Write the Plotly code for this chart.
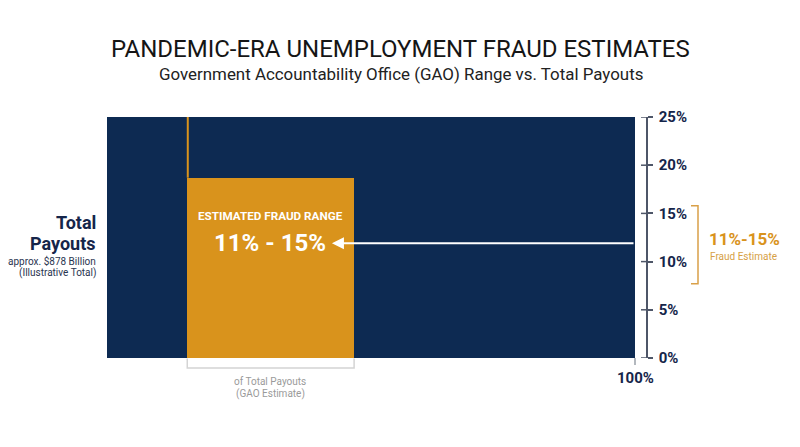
import plotly.graph_objects as go

# ---- data ----
total_payout_pct = 100          # whole bar = 100% of payouts
axis_max_pct = 25               # right axis maximum
axis_tick_vals = [0, 5, 10, 15, 20, 25]
axis_tick_text = ["0%", "5%", "10%", "15%", "20%", "25%"]
fraud_low, fraud_high = 11, 15  # GAO estimate range (%)
# illustrative fraud block (share of payouts on x, height on right scale)
fraud_block_x0, fraud_block_x1 = 15.2, 46.8
fraud_block_top = 18.7
arrow_level = 11.9
bracket_top, bracket_bottom = 15.8, 7.7
total_payout_billion = 878

NAVY = "#0d2a52"
ORANGE = "#d9931c"
AXIS_GRAY = "#4e5668"
TXT_NAVY = "#15254a"

OFF = 8  # page body margin
FW, FH = 800 - OFF, 447 - OFF
# plot-area geometry (page pixels)
L_pg, R_pg, T_pg, B_pg = 107, 646, 117, 358
L, R, T, B = L_pg - OFF, R_pg - OFF, T_pg - OFF, B_pg - OFF
PW, PH = R - L, B - T
X_PER_UNIT = (635 - L_pg) / total_payout_pct
x_max = PW / X_PER_UNIT


def pxx(x):
    return (x - L_pg) / PW


def pxy(y):
    return (B_pg - y) / PH


fig = go.Figure()

fig.add_trace(go.Bar(
    x=[total_payout_pct / 2], y=[axis_max_pct], width=[total_payout_pct], base=0,
    marker=dict(color=NAVY, line=dict(width=0)), hoverinfo="skip"))
fig.add_trace(go.Bar(
    x=[(fraud_block_x0 + fraud_block_x1) / 2], y=[fraud_block_top],
    width=[fraud_block_x1 - fraud_block_x0], base=0,
    marker=dict(color=ORANGE, line=dict(width=0)), hoverinfo="skip"))
fig.add_trace(go.Scatter(
    x=[fraud_block_x0 + 0.1, fraud_block_x0 + 0.1], y=[fraud_block_top, axis_max_pct],
    mode="lines", line=dict(color=ORANGE, width=2), hoverinfo="skip"))

annotations = []
# arrow
annotations.append(dict(x=42.6, y=arrow_level, ax=total_payout_pct, ay=arrow_level,
                        xref="x", yref="y", axref="x", ayref="y", text="",
                        showarrow=True, arrowhead=2, arrowsize=1.2, arrowwidth=2,
                        arrowcolor="white"))


def txt(text, x, y, size, color, xanchor="center", weight="normal"):
    annotations.append(dict(text=text, x=pxx(x), y=pxy(y), xref="paper", yref="paper",
                            xanchor=xanchor, yanchor="middle", showarrow=False,
                            font=dict(family="Roboto", size=size, color=color, weight=weight)))


txt("PANDEMIC-ERA UNEMPLOYMENT FRAUD ESTIMATES", 400, 49, 24, "#151515")
txt("Government Accountability Office (GAO) Range vs. Total Payouts", 401, 74, 16.9, "#222222")

txt("Total", 98, 222, 18, TXT_NAVY, "right", "bold")
txt("Payouts", 98, 243, 18, TXT_NAVY, "right", "bold")
txt(f"approx. ${total_payout_billion} Billion", 98, 261, 10, "#2a3550", "right")
txt("(Illustrative Total)", 98, 273, 10, "#2a3550", "right")

txt("ESTIMATED FRAUD RANGE", 270, 216, 11.7, "white", "center", "bold")
txt(f"{fraud_low}% - {fraud_high}%", 270, 243, 24, "white", "center", "bold")

txt("of Total Payouts", 270, 381, 10, "#9a9a9a")
txt("(GAO Estimate)", 270, 394, 10, "#9a9a9a")

txt(f"{total_payout_pct}%", 635, 378, 15, TXT_NAVY, "center", "bold")

txt(f"{fraud_low}%-{fraud_high}%", 744, 239, 17, ORANGE, "center", "bold")
txt("Fraud Estimate", 743, 256, 10, "#d6a045", "center")

shapes = []
# inner half of right-axis ticks
for v in axis_tick_vals:
    shapes.append(dict(type="line", xref="paper", yref="y", x0=pxx(641), x1=1, y0=v, y1=v,
                       line=dict(color=AXIS_GRAY, width=1.5)))
# bottom tick at 100%
shapes.append(dict(type="line", xref="x", yref="paper", x0=total_payout_pct, x1=total_payout_pct,
                   y0=0, y1=pxy(365), line=dict(color="#9aa0a8", width=1.5)))
# bottom bracket
shapes.append(dict(type="path", xref="x", yref="paper",
                   path=f"M {fraud_block_x0},{pxy(358.5)} L {fraud_block_x0},{pxy(368)} "
                        f"L {fraud_block_x1},{pxy(368)} L {fraud_block_x1},{pxy(358.5)}",
                   line=dict(color="#d4d4d4", width=1.5)))
# right bracket
shapes.append(dict(type="path", xref="paper", yref="y",
                   path=f"M {pxx(691)},{bracket_top} L {pxx(698)},{bracket_top} "
                        f"L {pxx(698)},{bracket_bottom} L {pxx(691)},{bracket_bottom}",
                   line=dict(color="#d9a048", width=1.5)))

fig.update_layout(
    width=FW, height=FH,
    margin=dict(l=L, r=FW - R, t=T, b=FH - B),
    paper_bgcolor="white", plot_bgcolor="white",
    barmode="overlay", bargap=0, showlegend=False, hovermode=False,
    annotations=annotations, shapes=shapes,
    xaxis=dict(range=[0, x_max], visible=False, fixedrange=True),
    yaxis=dict(range=[0, axis_max_pct], side="right", showgrid=False, zeroline=False,
               showline=True, linecolor=AXIS_GRAY, linewidth=1.5,
               ticks="outside", ticklen=5, tickwidth=1.5, tickcolor=AXIS_GRAY,
               tickvals=axis_tick_vals, ticktext=axis_tick_text, ticklabelstandoff=3,
               tickfont=dict(family="Roboto", size=15, color=TXT_NAVY, weight="bold"),
               fixedrange=True),
)

fig.write_html("out.html")
